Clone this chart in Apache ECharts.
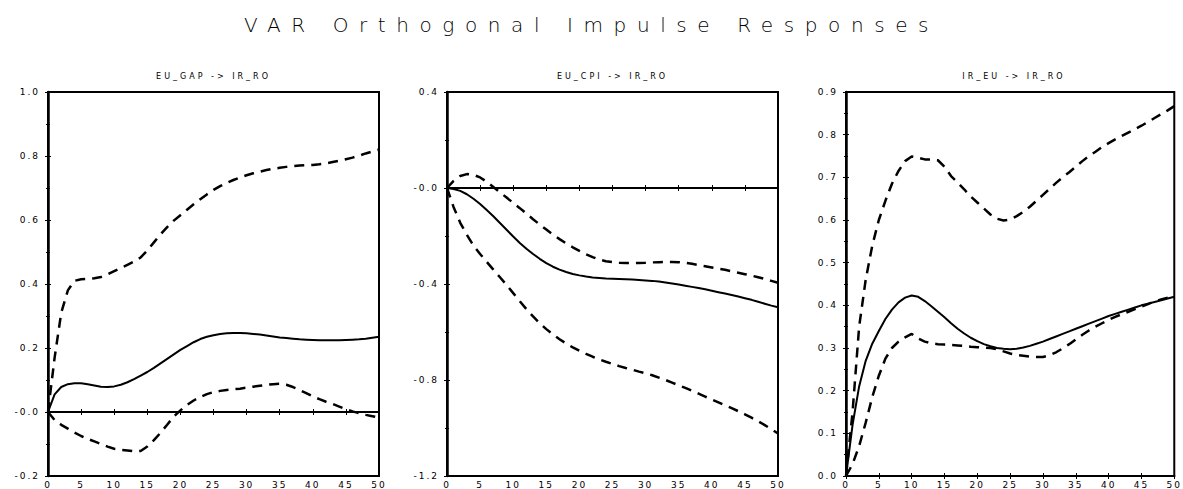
<!DOCTYPE html>
<html>
<head>
<meta charset="utf-8">
<script src="https://cdn.jsdelivr.net/npm/echarts@6/dist/echarts.min.js"></script>
<style>
html, body { margin: 0; padding: 0; background: #fff; }
#chart { width: 1183px; height: 489px; }
#chart text { letter-spacing: 2px; }
#chart text[style*="20px"] { letter-spacing: 10.6px; }
#chart text[style*="8px"] { letter-spacing: 3px; }
</style>
</head>
<body>
<div id="chart"></div>
<script>
var myChart = echarts.init(document.getElementById('chart'), null, { renderer: 'svg' });

// horizon 0..50
var steps = [];
for (var i = 0; i <= 50; i++) steps.push(i);

// EU_GAP -> IR_RO
var gapResp = [0, 0.055, 0.078, 0.087, 0.09, 0.09, 0.087, 0.083, 0.079, 0.078,
	0.08, 0.085, 0.093, 0.103, 0.114, 0.125, 0.138, 0.152, 0.166, 0.18,
	0.194, 0.206, 0.218, 0.228, 0.235, 0.24, 0.244, 0.246, 0.247, 0.247,
	0.246, 0.244, 0.242, 0.239, 0.236, 0.233, 0.231, 0.229, 0.227, 0.226,
	0.225, 0.224, 0.224, 0.224, 0.224, 0.225, 0.226, 0.227, 0.229, 0.232, 0.235];
var gapUpper = [0, 0.17, 0.31, 0.38, 0.41, 0.415, 0.416, 0.418, 0.422, 0.43,
	0.44, 0.45, 0.46, 0.47, 0.483, 0.505, 0.53, 0.555, 0.578, 0.598,
	0.615, 0.632, 0.649, 0.665, 0.68, 0.694, 0.706, 0.716, 0.725, 0.733,
	0.74, 0.746, 0.751, 0.756, 0.76, 0.763, 0.766, 0.768, 0.77, 0.771,
	0.772, 0.774, 0.777, 0.781, 0.785, 0.79, 0.795, 0.801, 0.808, 0.814, 0.82];
var gapLower = [0, -0.025, -0.04, -0.052, -0.064, -0.075, -0.084, -0.092, -0.1, -0.108,
	-0.115, -0.118, -0.12, -0.123, -0.122, -0.108, -0.088, -0.065, -0.04, -0.014,
	0.005, 0.022, 0.036, 0.047, 0.056, 0.062, 0.066, 0.069, 0.071, 0.073,
	0.076, 0.079, 0.082, 0.085, 0.087, 0.088, 0.085, 0.078, 0.069, 0.059,
	0.049, 0.04, 0.032, 0.025, 0.017, 0.009, 0.002, -0.004, -0.009, -0.013, -0.017];

// EU_CPI -> IR_RO
var cpiResp = [0, -0.004, -0.012, -0.026, -0.045, -0.067, -0.092, -0.118, -0.146, -0.174,
	-0.202, -0.229, -0.253, -0.275, -0.295, -0.313, -0.328, -0.34, -0.35, -0.358,
	-0.364, -0.369, -0.373, -0.375, -0.377, -0.378, -0.379, -0.38, -0.381, -0.383,
	-0.385, -0.387, -0.39, -0.394, -0.398, -0.402, -0.407, -0.412, -0.417, -0.422,
	-0.428, -0.434, -0.44, -0.446, -0.452, -0.459, -0.466, -0.474, -0.482, -0.49, -0.497];
var cpiUpper = [0, 0.03, 0.05, 0.058, 0.055, 0.044, 0.026, 0.004, -0.018, -0.04,
	-0.062, -0.084, -0.107, -0.13, -0.152, -0.173, -0.194, -0.213, -0.231, -0.247,
	-0.262, -0.276, -0.288, -0.298, -0.305, -0.309, -0.311, -0.312, -0.312, -0.312,
	-0.311, -0.31, -0.309, -0.308, -0.308, -0.309, -0.312, -0.316, -0.321, -0.326,
	-0.331, -0.336, -0.341, -0.347, -0.353, -0.359, -0.365, -0.372, -0.379, -0.387, -0.395];
var cpiLower = [0, -0.08, -0.145, -0.195, -0.24, -0.275, -0.308, -0.34, -0.372, -0.404,
	-0.438, -0.472, -0.505, -0.535, -0.563, -0.588, -0.61, -0.63, -0.648, -0.664,
	-0.678, -0.691, -0.703, -0.714, -0.724, -0.733, -0.742, -0.75, -0.757, -0.765,
	-0.772, -0.78, -0.79, -0.8, -0.811, -0.822, -0.833, -0.845, -0.857, -0.869,
	-0.881, -0.893, -0.905, -0.917, -0.93, -0.943, -0.957, -0.972, -0.988, -1.005, -1.023];

// IR_EU -> IR_RO
var irResp = [0, 0.12, 0.21, 0.27, 0.31, 0.34, 0.368, 0.39, 0.407, 0.418,
	0.423, 0.42, 0.41, 0.398, 0.385, 0.372, 0.358, 0.345, 0.334, 0.324,
	0.316, 0.309, 0.304, 0.3, 0.298, 0.297, 0.298, 0.301, 0.305, 0.31,
	0.315, 0.321, 0.327, 0.333, 0.339, 0.345, 0.351, 0.357, 0.363, 0.369,
	0.375, 0.38, 0.385, 0.39, 0.395, 0.4, 0.404, 0.408, 0.412, 0.416, 0.42];
var irUpper = [0, 0.15, 0.35, 0.46, 0.54, 0.6, 0.645, 0.685, 0.715, 0.738,
	0.749, 0.746, 0.742, 0.742, 0.74, 0.725, 0.703, 0.688, 0.672, 0.655,
	0.641, 0.627, 0.613, 0.603, 0.599, 0.601, 0.609, 0.619, 0.631, 0.645,
	0.659, 0.673, 0.687, 0.7, 0.712, 0.725, 0.738, 0.75, 0.76, 0.771,
	0.78, 0.789, 0.797, 0.805, 0.813, 0.821, 0.83, 0.839, 0.848, 0.857, 0.867];
var irLower = [0, 0.028, 0.07, 0.125, 0.185, 0.235, 0.275, 0.3, 0.315, 0.325,
	0.333, 0.322, 0.315, 0.311, 0.309, 0.308, 0.307, 0.306, 0.305, 0.303,
	0.302, 0.301, 0.3, 0.297, 0.292, 0.287, 0.284, 0.282, 0.28, 0.279,
	0.279, 0.283, 0.29, 0.299, 0.309, 0.32, 0.331, 0.341, 0.35, 0.358,
	0.366, 0.373, 0.379, 0.385, 0.391, 0.397, 0.403, 0.409, 0.414, 0.418, 0.422];

var panels = [
	{ name: 'EU_GAP -> IR_RO', resp: gapResp, upper: gapUpper, lower: gapLower,
		min: -0.2, max: 1.0, interval: 0.2, zero: '-0.0', left: 48, right: 804 },
	{ name: 'EU_CPI -> IR_RO', resp: cpiResp, upper: cpiUpper, lower: cpiLower,
		min: -1.2, max: 0.4, interval: 0.4, zero: '-0.0', left: 447, right: 405 },
	{ name: 'IR_EU -> IR_RO', resp: irResp, upper: irUpper, lower: irLower,
		min: 0, max: 0.9, interval: 0.1, zero: '0.0', left: 846, right: 1 }
];

function pairs(arr) {
	return steps.map(function(t, k) { return [t, arr[k]]; });
}

var font = 'DejaVu Sans';
var grid = [], xAxis = [], yAxis = [], series = [], graphic = [];

panels.forEach(function(p, g) {
	grid.push({
		left: p.left, right: p.right, top: 92, bottom: 7,
		show: true, borderColor: '#000', borderWidth: 2
	});
	var center = p.left + (1183 - p.left - p.right) / 2;
	graphic.push({
		type: 'text', x: center, y: 76,
		style: {
			text: p.name, fill: '#000', font: '8px ' + font,
			textAlign: 'center', textVerticalAlign: 'middle'
		}
	});
	// bottom + top x axes
	xAxis.push({
		type: 'value', gridIndex: g, min: 0, max: 50, interval: 5,
		axisLine: { lineStyle: { color: '#000', width: 2 } },
		axisTick: { inside: true, length: 3, lineStyle: { color: '#000' } },
		axisLabel: { margin: 4, color: '#000', fontSize: 9, fontFamily: font },
		splitLine: { show: false }
	});
	xAxis.push({
		type: 'value', gridIndex: g, min: 0, max: 50, interval: 5, position: 'top',
		axisLine: { lineStyle: { color: '#000', width: 2 } },
		axisTick: { inside: true, length: 3, lineStyle: { color: '#000' } },
		axisLabel: { show: false },
		splitLine: { show: false }
	});
	// left + right y axes
	yAxis.push({
		type: 'value', gridIndex: g, min: p.min, max: p.max, interval: p.interval,
		axisLine: { show: true, lineStyle: { color: '#000', width: 2.5 } },
		axisTick: { show: true, inside: true, length: 3, lineStyle: { color: '#000' } },
		minorTick: { show: true, splitNumber: 2, length: 2, lineStyle: { color: '#000' } },
		axisLabel: {
			margin: 8, color: '#000', fontSize: 9, fontFamily: font,
			formatter: function(v) {
				if (Math.abs(v) < 1e-9) return p.zero;
				return v.toFixed(1);
			}
		},
		splitLine: { show: false }
	});
	yAxis.push({
		type: 'value', gridIndex: g, min: p.min, max: p.max, interval: p.interval, position: 'right',
		axisLine: { show: true, lineStyle: { color: '#000', width: 2 } },
		axisTick: { show: true, inside: true, length: 3, lineStyle: { color: '#000' } },
		minorTick: { show: true, splitNumber: 2, length: 2, lineStyle: { color: '#000' } },
		axisLabel: { show: false },
		splitLine: { show: false }
	});

	var base = {
		type: 'line', xAxisIndex: g * 2, yAxisIndex: g * 2,
		symbol: 'none', silent: true, animation: false
	};
	series.push(Object.assign({}, base, {
		name: p.name,
		data: pairs(p.resp),
		lineStyle: { color: '#000', width: 2 },
		markLine: {
			symbol: 'none', silent: true, label: { show: false },
			lineStyle: { color: '#000', width: 2, type: 'solid' },
			data: [{ yAxis: 0 }]
		}
	}));
	series.push(Object.assign({}, base, {
		data: pairs(p.upper),
		lineStyle: { color: '#000', width: 2.5, type: [10, 7] }
	}));
	series.push(Object.assign({}, base, {
		data: pairs(p.lower),
		lineStyle: { color: '#000', width: 2.5, type: [10, 7] }
	}));
});

var option = {
	backgroundColor: '#fff',
	animation: false,
	title: {
		text: 'VAR Orthogonal Impulse Responses',
		left: 'center', top: 10,
		textStyle: { color: '#000', fontSize: 20, fontWeight: 200, fontFamily: font }
	},
	grid: grid,
	xAxis: xAxis,
	yAxis: yAxis,
	series: series,
	graphic: graphic
};

myChart.setOption(option);
</script>
</body>
</html>
